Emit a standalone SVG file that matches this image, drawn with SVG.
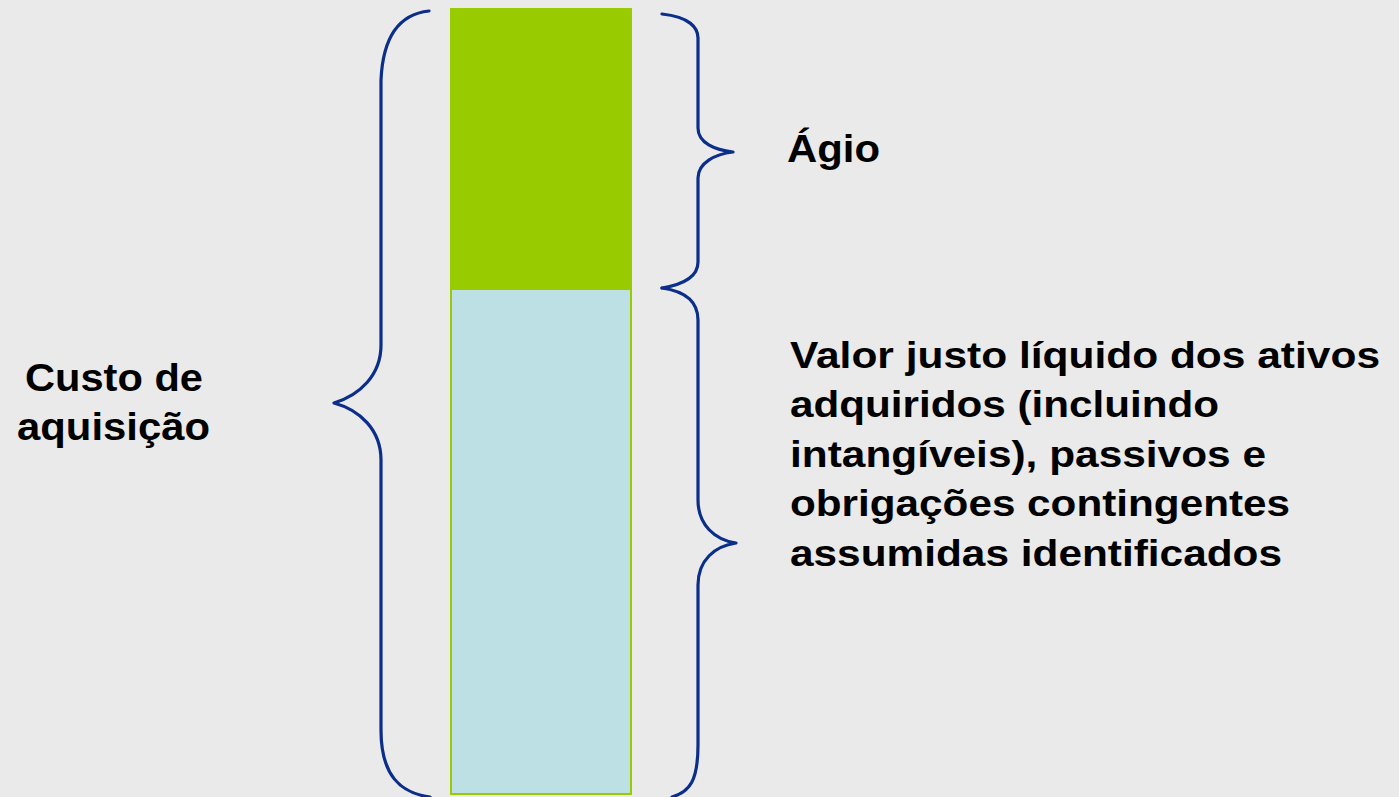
<svg xmlns="http://www.w3.org/2000/svg" width="1399" height="797" viewBox="0 0 1399 797">
<style>
.brace{fill:none;stroke:#0B2E8A;stroke-width:3.2;stroke-linecap:round;stroke-linejoin:round}
.t{font-family:"Liberation Sans",Arial,sans-serif;font-weight:bold;font-size:37px;fill:#000}
.big{font-size:38px}
</style>
<rect width="1399" height="797" fill="#EAEAEA"/>
<g id="agio-bar"><rect x="450" y="8" width="182" height="280" fill="#99CC00"/></g>
<g id="valor-bar"><rect x="451" y="289" width="180" height="505" fill="#BCE0E3" stroke="#99CC00" stroke-width="2"/></g>
<g id="connectors">
<path class="brace" d="M429,11 C400,14 383,35 381,80 L381,345 C381,375 360,395 334,403 C360,410 381,430 381,460 L381,730 C381,775 400,793 430,797"/>
<path class="brace" d="M662,14 C690,17 698,28 698,38 L698,128 C698,143 715,150 733,152 C715,154 698,163 698,178 L698,262 C698,278 680,285 662,288"/>
<path class="brace" d="M662,288 C690,292 698,305 698,320 L698,500 C698,525 715,540 736,543 C715,546 698,560 698,585 L698,745 C698,780 690,792 672,797"/>
</g>
<g id="custo"><text class="t big" x="25" y="391" textLength="178" lengthAdjust="spacingAndGlyphs">Custo de</text><text class="t big" x="17" y="440" textLength="193" lengthAdjust="spacingAndGlyphs">aquisição</text></g>
<g id="agio"><text class="t big" x="787" y="162" textLength="93" lengthAdjust="spacingAndGlyphs">Ágio</text></g>
<g id="valor">
<text class="t" x="790" y="368" textLength="590" lengthAdjust="spacingAndGlyphs">Valor justo líquido dos ativos</text>
<text class="t" x="790" y="417" textLength="429" lengthAdjust="spacingAndGlyphs">adquiridos (incluindo</text>
<text class="t" x="790" y="467" textLength="476" lengthAdjust="spacingAndGlyphs">intangíveis), passivos e</text>
<text class="t" x="790" y="516" textLength="500" lengthAdjust="spacingAndGlyphs">obrigações contingentes</text>
<text class="t" x="790" y="566" textLength="492" lengthAdjust="spacingAndGlyphs">assumidas identificados</text>
</g>
</svg>
